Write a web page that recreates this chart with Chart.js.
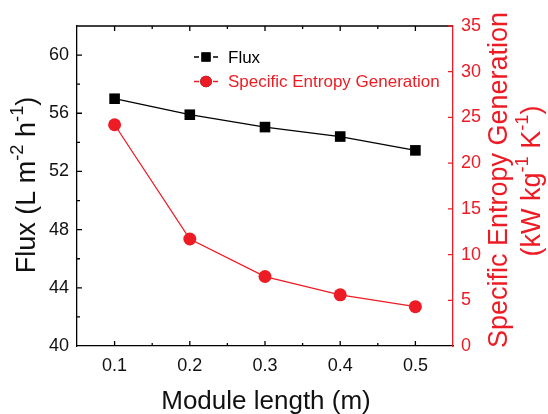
<!DOCTYPE html>
<html>
<head>
<meta charset="utf-8">
<script src="https://cdn.jsdelivr.net/npm/chart.js@4/dist/chart.umd.min.js"></script>
<style>
  html, body { margin: 0; padding: 0; background: #fff; }
  #wrap { width: 548px; height: 414px; }
</style>
</head>
<body>
<div id="wrap"><canvas id="chart" width="548" height="414"></canvas></div>
<script>
const moduleLength = [0.1, 0.2, 0.3, 0.4, 0.5];
const flux = [57.0, 55.9, 55.05, 54.4, 53.45];
const entropyGen = [24.2, 11.7, 7.6, 5.6, 4.3];
const xTicks = [0.1, 0.2, 0.3, 0.4, 0.5];
const fluxTicks = [40, 44, 48, 52, 56, 60];
const entropyTicks = [0, 5, 10, 15, 20, 25, 30, 35];

const RED = 'rgb(237,28,36)';
const FONT = 'Liberation Sans, Arial, sans-serif';

// draws a run of text pieces, some of them superscript, centred at (cx, cy)
function richText(ctx, parts, cx, cy, size, color, angle) {
  ctx.save();
  ctx.translate(cx, cy);
  ctx.rotate(angle);
  ctx.fillStyle = color;
  ctx.textBaseline = 'middle';
  ctx.textAlign = 'left';
  const supSize = size * 0.68;
  const widths = parts.map(p => {
    ctx.font = (p.sup ? supSize : size) + 'px ' + FONT;
    return ctx.measureText(p.t).width;
  });
  let x = -widths.reduce((a, b) => a + b, 0) / 2;
  parts.forEach((p, i) => {
    ctx.font = (p.sup ? supSize : size) + 'px ' + FONT;
    ctx.fillText(p.t, x, p.sup ? -size * 0.36 : 0);
    x += widths[i];
  });
  ctx.restore();
}

const decorations = {
  id: 'decorations',
  afterDraw(chart) {
    const { ctx, chartArea: a, scales } = chart;
    const sx = scales.x, sy = scales.y, sy1 = scales.y1;
    ctx.save();
    ctx.lineWidth = 1.3;
    // top frame line
    ctx.strokeStyle = '#000';
    ctx.beginPath();
    ctx.moveTo(a.left, a.top);
    ctx.lineTo(a.right, a.top);
    ctx.stroke();

    // inward tick marks
    ctx.beginPath();
    [0.1, 0.15, 0.2, 0.25, 0.3, 0.35, 0.4, 0.45, 0.5].forEach((v, i) => {
      const px = sx.getPixelForValue(v);
      const len = i % 2 === 0 ? 5 : 3;
      ctx.moveTo(px, a.bottom); ctx.lineTo(px, a.bottom - len);
      ctx.moveTo(px, a.top); ctx.lineTo(px, a.top + len);
    });
    for (let v = 42; v <= 60; v += 2) {
      const py = sy.getPixelForValue(v);
      const len = v % 4 === 0 ? 5 : 3;
      ctx.moveTo(a.left, py); ctx.lineTo(a.left + len, py);
    }
    ctx.stroke();
    ctx.strokeStyle = RED;
    ctx.beginPath();
    entropyTicks.forEach(v => {
      if (v === 0) return;
      const py = sy1.getPixelForValue(v);
      ctx.moveTo(a.right, py); ctx.lineTo(a.right - 5, py);
    });
    ctx.stroke();
    ctx.restore();

    // legend inside the plot: short dash, marker, short dash, label
    const legendRows = [57, 81.5];
    const legendSizes = [6.5, 5.8];
    chart.data.datasets.forEach((ds, i) => {
      const y = legendRows[i];
      ctx.save();
      ctx.strokeStyle = ds.borderColor;
      ctx.lineWidth = 1.4;
      ctx.beginPath();
      ctx.moveTo(194, y); ctx.lineTo(199, y);
      ctx.moveTo(213, y); ctx.lineTo(218, y);
      ctx.stroke();
      Chart.helpers.drawPoint(ctx, {
        pointStyle: ds.pointStyle, radius: legendSizes[i], borderWidth: 0, rotation: 0
      }, 206, y);
      ctx.fillStyle = ds.pointBackgroundColor;
      ctx.fill();
      ctx.fillStyle = ds.borderColor;
      ctx.font = '17px ' + FONT;
      ctx.textBaseline = 'middle';
      ctx.fillText(ds.label, 228, y + 1);
      ctx.restore();
    });

    // axis titles
    richText(ctx, [{ t: 'Module length (m)' }], 266, 402, 26, '#111', 0);
    richText(ctx, [{ t: 'Flux (L m' }, { t: '-2', sup: true }, { t: ' h' }, { t: '-1', sup: true }, { t: ')' }],
      28, 185, 27, '#111', -Math.PI / 2);
    richText(ctx, [{ t: 'Specific Entropy Generation' }], 500, 180, 27, RED, -Math.PI / 2);
    richText(ctx, [{ t: '(kW kg' }, { t: '-1', sup: true }, { t: ' K' }, { t: '-1', sup: true }, { t: ')' }],
      533, 181, 27, RED, -Math.PI / 2);
  }
};

new Chart(document.getElementById('chart'), {
  type: 'line',
  data: {
    datasets: [
      {
        label: 'Flux',
        data: moduleLength.map((x, i) => ({ x, y: flux[i] })),
        yAxisID: 'y',
        borderColor: '#000',
        backgroundColor: '#000',
        pointBackgroundColor: '#000',
        pointBorderColor: '#000',
        borderWidth: 1.3,
        pointStyle: 'rect',
        pointRadius: 7.5,
        pointBorderWidth: 0,
        tension: 0
      },
      {
        label: 'Specific Entropy Generation',
        data: moduleLength.map((x, i) => ({ x, y: entropyGen[i] })),
        yAxisID: 'y1',
        borderColor: RED,
        backgroundColor: RED,
        pointBackgroundColor: RED,
        pointBorderColor: RED,
        borderWidth: 1.3,
        pointStyle: 'circle',
        pointRadius: 6.5,
        pointBorderWidth: 0,
        tension: 0
      }
    ]
  },
  options: {
    responsive: false,
    animation: false,
    layout: { padding: { top: 26, left: 0, right: 0, bottom: 0 } },
    plugins: { legend: { display: false }, tooltip: { enabled: false } },
    scales: {
      x: {
        type: 'linear',
        min: 0.05,
        max: 0.55,
        afterBuildTicks: s => { s.ticks = xTicks.map(v => ({ value: v })); },
        afterFit: s => { s.height = 68; },
        grid: { display: false, drawTicks: false },
        border: { display: true, color: '#000', width: 1.3 },
        ticks: {
          padding: 9,
          color: '#111',
          font: { family: FONT, size: 18 },
          callback: v => v.toFixed(1)
        }
      },
      y: {
        position: 'left',
        min: 40,
        max: 62,
        afterBuildTicks: s => { s.ticks = fluxTicks.map(v => ({ value: v })); },
        afterFit: s => { s.width = 77; },
        grid: { display: false, drawTicks: false },
        border: { display: true, color: '#000', width: 1.3 },
        ticks: { padding: 8, color: '#111', font: { family: FONT, size: 18 } }
      },
      y1: {
        position: 'right',
        min: 0,
        max: 35,
        afterBuildTicks: s => { s.ticks = entropyTicks.map(v => ({ value: v })); },
        afterFit: s => { s.width = 95; },
        grid: { display: false, drawTicks: false },
        border: { display: true, color: RED, width: 1.3 },
        ticks: { padding: 8, color: RED, font: { family: FONT, size: 18 } }
      }
    }
  },
  plugins: [decorations]
});
</script>
</body>
</html>
